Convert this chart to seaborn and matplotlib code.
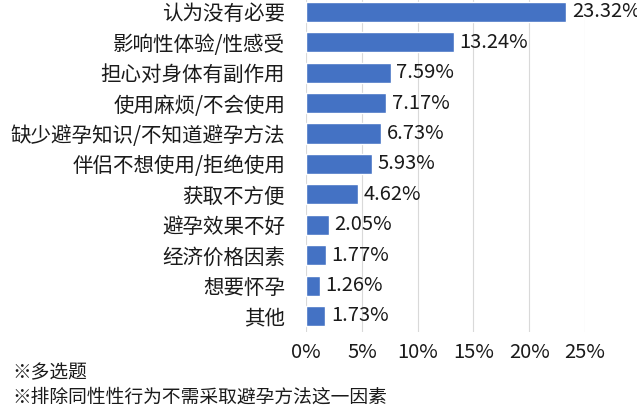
import numpy as np
import pandas as pd
import matplotlib
matplotlib.use("Agg")
import matplotlib.pyplot as plt
import seaborn as sns

reasons = ["认为没有必要", "影响性体验/性感受", "担心对身体有副作用", "使用麻烦/不会使用",
           "缺少避孕知识/不知道避孕方法", "伴侣不想使用/拒绝使用", "获取不方便",
           "避孕效果不好", "经济价格因素", "想要怀孕", "其他"]
shares = [23.32, 13.24, 7.59, 7.17, 6.73, 5.93, 4.62, 2.05, 1.77, 1.26, 1.73]
x_ticks = [0, 5, 10, 15, 20, 25]
x_tick_labels = ["0%", "5%", "10%", "15%", "20%", "25%"]
notes = ["※多选题", "※排除同性性行为不需采取避孕方法这一因素"]

df = pd.DataFrame({"reason": reasons, "share": shares})

sns.set_style("white")
plt.rcParams["font.family"] = ["Noto Sans CJK SC", "DejaVu Sans"]
plt.rcParams["font.weight"] = "medium"

fig = plt.figure(figsize=(6.37, 4.12), dpi=100)
ax = fig.add_axes([0.4804, 0.194, 0.438, 0.806])

sns.barplot(data=df, x="share", y="reason", orient="h", color="#4472C4",
            saturation=1, width=0.66, ax=ax)

ax.bar_label(ax.containers[0], labels=[f"{v:.2f}%" for v in shares],
             padding=4, fontsize=14.5, color="#1a1a1a")

ax.set_xlim(0, 25)
ax.set_ylim(10.53, -0.39)
ax.set_xticks(x_ticks)
ax.set_xticklabels(x_tick_labels)
ax.tick_params(axis="x", length=0, pad=7, labelsize=14.5, labelcolor="#1a1a1a")
ax.tick_params(axis="y", length=0, pad=15, labelsize=14.8, labelcolor="#1a1a1a")
ax.set_xlabel("")
ax.set_ylabel("")
ax.xaxis.grid(True, color="#d9d9d9", linewidth=0.8)
ax.set_axisbelow(True)
for s in ax.spines.values():
    s.set_visible(False)

fig.text(0.02, 1 - 373 / 412, notes[0], fontsize=13.5, va="center", color="#1a1a1a")
fig.text(0.02, 1 - 397 / 412, notes[1], fontsize=13.5, va="center", color="#1a1a1a")

fig.savefig("out.png", dpi=100)
